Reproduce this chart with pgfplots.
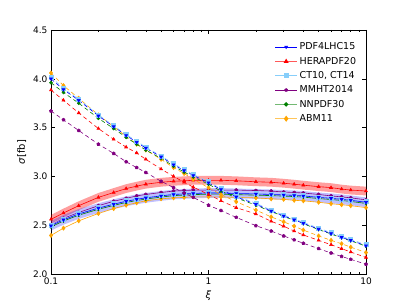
\documentclass[border=0pt]{standalone}
\usepackage{fontspec}
\setmainfont{DejaVu Sans}
\usepackage{pgfplots}
\usepackage{pgfplotstable}
\pgfplotsset{compat=1.18}
\usepgfplotslibrary{fillbetween}
\usetikzlibrary{plotmarks}
\definecolor{lsb}{RGB}{135,206,250}
\definecolor{mpurple}{RGB}{128,0,128}
\definecolor{mgreen}{RGB}{0,128,0}
\definecolor{morange}{RGB}{255,165,0}

\pgfplotstableread{
xi bS bLo bHi rS rLo rHi cS mS gS oS bD rD cD mD gD oD
0.1 2.495 2.445 2.545 2.56 2.515 2.605 2.50 2.50 2.483 2.395 4.00 3.885 4.02 3.67 3.96 4.06
0.12 2.555 2.505 2.605 2.625 2.58 2.67 2.56 2.57 2.543 2.47 3.89 3.78 3.90 3.58 3.86 3.93
0.15 2.615 2.565 2.665 2.70 2.655 2.745 2.62 2.63 2.603 2.545 3.78 3.65 3.79 3.47 3.75 3.80
0.2 2.675 2.625 2.725 2.785 2.74 2.83 2.68 2.70 2.663 2.62 3.62 3.49 3.63 3.33 3.595 3.63
0.25 2.715 2.665 2.765 2.835 2.79 2.88 2.72 2.745 2.703 2.67 3.51 3.38 3.52 3.235 3.49 3.51
0.3 2.745 2.695 2.795 2.875 2.83 2.92 2.75 2.775 2.733 2.705 3.42 3.30 3.43 3.15 3.40 3.41
0.35 2.765 2.715 2.815 2.90 2.855 2.945 2.77 2.80 2.753 2.73 3.35 3.24 3.36 3.09 3.33 3.33
0.4 2.78 2.73 2.83 2.92 2.875 2.965 2.785 2.815 2.768 2.75 3.29 3.175 3.30 3.04 3.27 3.27
0.5 2.80 2.75 2.85 2.94 2.895 2.985 2.805 2.835 2.788 2.77 3.20 3.075 3.21 2.95 3.185 3.175
0.6 2.815 2.765 2.865 2.95 2.905 2.995 2.82 2.85 2.803 2.78 3.12 3.00 3.13 2.885 3.105 3.09
0.7 2.82 2.77 2.87 2.955 2.91 3.00 2.825 2.855 2.808 2.785 3.06 2.94 3.07 2.83 3.045 3.03
0.8 2.825 2.775 2.875 2.96 2.915 3.005 2.83 2.86 2.813 2.79 3.01 2.89 3.02 2.785 2.995 2.97
1.0 2.83 2.78 2.88 2.96 2.915 3.005 2.835 2.86 2.818 2.79 2.935 2.815 2.945 2.705 2.92 2.885
1.2 2.83 2.78 2.88 2.96 2.915 3.005 2.835 2.86 2.818 2.79 2.865 2.75 2.875 2.65 2.85 2.815
1.5 2.825 2.775 2.875 2.955 2.91 3.00 2.83 2.86 2.813 2.785 2.79 2.68 2.80 2.58 2.78 2.74
2 2.82 2.77 2.87 2.945 2.90 2.99 2.825 2.855 2.808 2.78 2.715 2.615 2.725 2.495 2.705 2.655
2.5 2.815 2.765 2.865 2.94 2.895 2.985 2.82 2.85 2.803 2.77 2.645 2.54 2.655 2.44 2.64 2.585
3 2.81 2.76 2.86 2.93 2.885 2.975 2.815 2.84 2.798 2.765 2.595 2.49 2.605 2.39 2.59 2.535
3.5 2.805 2.755 2.855 2.92 2.875 2.965 2.81 2.835 2.793 2.755 2.555 2.44 2.565 2.35 2.55 2.49
4 2.80 2.75 2.85 2.91 2.865 2.955 2.805 2.83 2.788 2.75 2.52 2.40 2.53 2.315 2.515 2.45
5 2.785 2.735 2.835 2.895 2.85 2.94 2.79 2.815 2.773 2.735 2.46 2.345 2.47 2.26 2.455 2.39
6 2.775 2.725 2.825 2.885 2.84 2.93 2.78 2.80 2.763 2.72 2.415 2.30 2.425 2.215 2.41 2.345
7 2.765 2.715 2.815 2.87 2.825 2.915 2.77 2.79 2.753 2.71 2.375 2.26 2.385 2.18 2.37 2.31
8 2.755 2.705 2.805 2.86 2.815 2.905 2.76 2.78 2.743 2.70 2.345 2.225 2.355 2.15 2.34 2.275
10 2.735 2.685 2.785 2.85 2.805 2.895 2.74 2.76 2.723 2.68 2.29 2.17 2.30 2.10 2.285 2.22
}\data

\begin{document}
\begin{tikzpicture}
\path (-51pt,-31pt) rectangle (356pt,274pt);
\begin{axis}[
  at={(0pt,0pt)}, anchor=south west,
  scale only axis, width=315pt, height=244pt,
  xmode=log, xmin=0.1, xmax=10, ymin=2.0, ymax=4.5,
  xtick={0.1,1,10}, xticklabels={0.1,1,10},
  minor xtick={0.2,0.3,0.4,0.5,0.6,0.7,0.8,0.9,2,3,4,5,6,7,8,9},
  ytick={2.0,2.5,3.0,3.5,4.0,4.5},
  yticklabel style={/pgf/number format/.cd, fixed, fixed zerofill, precision=1},
  /pgf/number format/assume math mode=true,
  tick align=inside,
  major tick length=4pt, minor tick length=2pt,
  tick style={black, line width=0.5pt},
  axis line style={line width=0.8pt},
  tick label style={font=\fontsize{9}{10}\selectfont},
  label style={font=\fontsize{10}{11}\selectfont},
  xlabel={\textit{ξ}},
  ylabel={\textit{σ}[fb]},
  legend style={at={(0.985,0.965)}, anchor=north east, draw=none, fill=none,
    font=\fontsize{9.5}{11}\selectfont, row sep=1.8pt},
  legend cell align=left,
  legend image code/.code={\draw[mark repeat=2,mark phase=2] plot coordinates {(0cm,0cm) (0.38cm,0cm) (0.76cm,0cm)};},
]
% bands
\addplot[name path=rlo, draw=none, forget plot] table[x=xi,y=rLo]{\data};
\addplot[name path=rhi, draw=none, forget plot] table[x=xi,y=rHi]{\data};
\addplot[red, fill opacity=0.38, draw=none, forget plot] fill between[of=rlo and rhi];
\addplot[name path=blo, draw=none, forget plot] table[x=xi,y=bLo]{\data};
\addplot[name path=bhi, draw=none, forget plot] table[x=xi,y=bHi]{\data};
\addplot[blue, fill opacity=0.25, draw=none, forget plot] fill between[of=blo and bhi];
% solid (mu_F)
\addplot[morange, line width=0.6pt, mark=diamond*, mark size=2.1pt, forget plot] table[x=xi,y=oS]{\data};
\addplot[mgreen, line width=0.6pt, mark=*, mark size=1.5pt, forget plot] table[x=xi,y=gS]{\data};
\addplot[mpurple, line width=0.6pt, mark=pentagon*, mark size=1.6pt, forget plot] table[x=xi,y=mS]{\data};
\addplot[lsb, line width=0.6pt, mark=square*, mark size=2.0pt, forget plot] table[x=xi,y=cS]{\data};
\addplot[blue, line width=0.6pt, mark=triangle*, mark size=1.7pt, every mark/.append style={rotate=180}, forget plot] table[x=xi,y=bS]{\data};
\addplot[red, line width=0.6pt, mark=triangle*, mark size=1.7pt, forget plot] table[x=xi,y=rS]{\data};
% dashed (mu_R)
\addplot[morange, line width=0.6pt, dash pattern=on 4pt off 3pt, mark=diamond*, mark size=2.1pt, mark options={solid}, forget plot] table[x=xi,y=oD]{\data};
\addplot[mgreen, line width=0.6pt, dash pattern=on 4pt off 3pt, mark=*, mark size=1.5pt, mark options={solid}, forget plot] table[x=xi,y=gD]{\data};
\addplot[mpurple, line width=0.6pt, dash pattern=on 4pt off 3pt, mark=pentagon*, mark size=1.6pt, mark options={solid}, forget plot] table[x=xi,y=mD]{\data};
\addplot[lsb, line width=0.6pt, dash pattern=on 4pt off 3pt, mark=square*, mark size=2.0pt, mark options={solid}, forget plot] table[x=xi,y=cD]{\data};
\addplot[blue, line width=0.6pt, dash pattern=on 4pt off 3pt, mark=triangle*, mark size=1.7pt, mark options={solid, rotate=180}, forget plot] table[x=xi,y=bD]{\data};
\addplot[red, line width=0.6pt, dash pattern=on 4pt off 3pt, mark=triangle*, mark size=1.7pt, mark options={solid}, forget plot] table[x=xi,y=rD]{\data};
% legend
\addlegendimage{blue, line width=0.7pt, mark=triangle*, mark size=1.5pt, mark options={rotate=180}}
\addlegendentry{PDF4LHC15}
\addlegendimage{red!65, line width=1.3pt, mark=triangle*, mark size=1.5pt, mark options={red}}
\addlegendentry{HERAPDF20}
\addlegendimage{lsb, line width=1.3pt, mark=square*, mark size=1.8pt}
\addlegendentry{CT10, CT14}
\addlegendimage{mpurple, line width=0.7pt, mark=pentagon*, mark size=1.5pt}
\addlegendentry{MMHT2014}
\addlegendimage{mgreen!55, line width=1.3pt, mark=*, mark size=1.5pt, mark options={mgreen}}
\addlegendentry{NNPDF30}
\addlegendimage{morange!65, line width=1.3pt, mark=diamond*, mark size=2pt, mark options={morange}}
\addlegendentry{ABM11}
\end{axis}
\end{tikzpicture}
\end{document}
